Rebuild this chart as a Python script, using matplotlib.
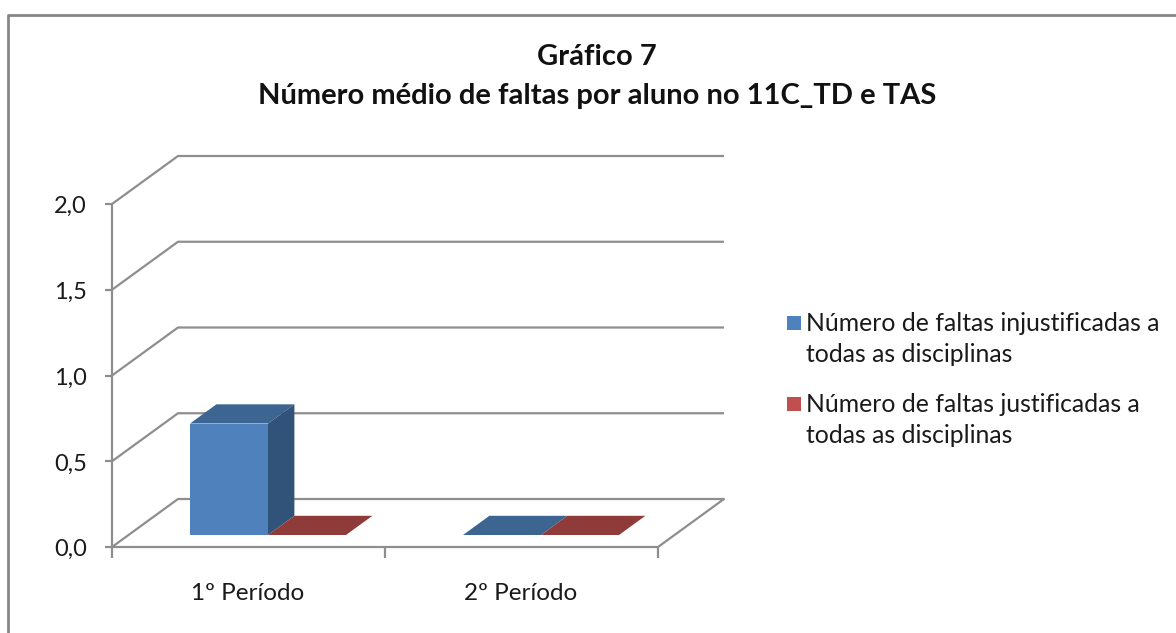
import matplotlib
matplotlib.use("Agg")
import matplotlib.pyplot as plt
from matplotlib.patches import Polygon, Rectangle

categories = ["1º Período", "2º Período"]
series_names = ["Número de faltas injustificadas a\ntodas as disciplinas",
                "Número de faltas justificadas a\ntodas as disciplinas"]
injustificadas = [0.65, 0.0]
justificadas = [0.0, 0.0]
y_ticks = [0.0, 0.5, 1.0, 1.5, 2.0]
y_labels = ["0,0", "0,5", "1,0", "1,5", "2,0"]

W, H = 1176, 633
plt.rcParams["font.family"] = ["Lato", "DejaVu Sans"]
fig = plt.figure(figsize=(W / 100, H / 100), dpi=100)

# front plane of the 3d box, in pixels of the picture
left, right, bottom, top = 112, 658, 547, 204
ax = fig.add_axes([left / W, 1 - bottom / H, (right - left) / W, (bottom - top) / H])
ax.set_xlim(0, len(categories))
ax.set_ylim(0, 2)
ax.patch.set_visible(False)
for s in ax.spines.values():
    s.set_visible(False)
ax.set_xticks([])
ax.set_yticks([])

# depth of the box, data units
dx = 66 / ((right - left) / len(categories))
dy = 48 / ((bottom - top) / 2)
grey = "#8e8e8e"
lw = 1.6


def shift(x, y, d):
    # point d of the way (0-1) into the depth of the box
    return x + dx * d, y + dy * d


def line(xs, ys, **kw):
    ax.plot(xs, ys, color=grey, lw=lw, clip_on=False, solid_capstyle="butt", **kw)


# gridlines on the side and back wall, floor edges
n = len(categories)
for v in y_ticks:
    line([0, dx, n + dx] if v > 0 else [0, dx, n + dx, n, 0],
         [v, v + dy, v + dy] if v > 0 else [v, v + dy, v + dy, v, v])
    line([-7 / 273, 0], [v, v])
line([0, 0], [0, 2])
for i in range(n + 1):
    line([i, i], [0, -11 / 171.5])

for v, lab in zip(y_ticks, y_labels):
    ax.text(-25 / 273, v - 0.016, lab, ha="right", va="center", fontsize=17, color="#1a1a1a")
for i, c in enumerate(categories):
    ax.text(i + 0.495, -47 / 171.5, c, ha="center", va="center", fontsize=17.5, color="#1a1a1a")

# bars
bar_w = 78 / 273
gap = (1 - 2 * bar_w) / 2
depth_front, depth_back = 0.25, 0.65
colors = [("#4f81bd", "#3c6591", "#325379"), ("#c0504d", "#8f3b39", "#7a3230")]
for j, values in enumerate([injustificadas, justificadas]):
    front, top_c, side = colors[j]
    for i, v in enumerate(values):
        x0 = i + gap + 0.011 + j * bar_w
        x1 = x0 + bar_w
        p0 = shift(x0, 0, depth_front)
        p1 = shift(x1, 0, depth_front)
        off_x = dx * (depth_back - depth_front)
        off_y = dy * (depth_back - depth_front)
        ax.add_patch(Polygon([(p0[0], p0[1] + v), (p1[0], p1[1] + v),
                              (p1[0] + off_x, p1[1] + v + off_y),
                              (p0[0] + off_x, p0[1] + v + off_y)],
                             fc=top_c, ec="none", clip_on=False, zorder=3))
        if v > 0:
            ax.add_patch(Rectangle(p0, bar_w, v, fc=front, ec="none", clip_on=False, zorder=3))
            ax.add_patch(Polygon([(p1[0], p1[1]), (p1[0] + off_x, p1[1] + off_y),
                                  (p1[0] + off_x, p1[1] + off_y + v), (p1[0], p1[1] + v)],
                                 fc=side, ec="none", clip_on=False, zorder=3))

# overlay axes in picture pixels for the frame, title and legend
ov = fig.add_axes([0, 0, 1, 1])
ov.set_xlim(0, W)
ov.set_ylim(H, 0)
ov.axis("off")
ov.patch.set_visible(False)
ov.plot([8, 8, W], [H, 15, 15], color="#868686", lw=2)
ov.text(597, 57, "Gráfico 7", ha="center", va="center", fontsize=21, fontweight="bold", color="#111111")
ov.text(597, 96, "Número médio de faltas por aluno no 11C_TD e TAS", ha="center", va="center",
        fontsize=21, fontweight="bold", color="#111111")

for name, col, ypos in zip(series_names, ["#4f81bd", "#c0504d"], [323, 404]):
    ov.add_patch(Rectangle((787, ypos - 7), 14, 14, fc=col, ec="none"))
    ov.text(806, ypos + 16, name, ha="left", va="center", fontsize=17.8, color="#1a1a1a", linespacing=1.38)

fig.savefig("out.png", dpi=100, facecolor="white")
